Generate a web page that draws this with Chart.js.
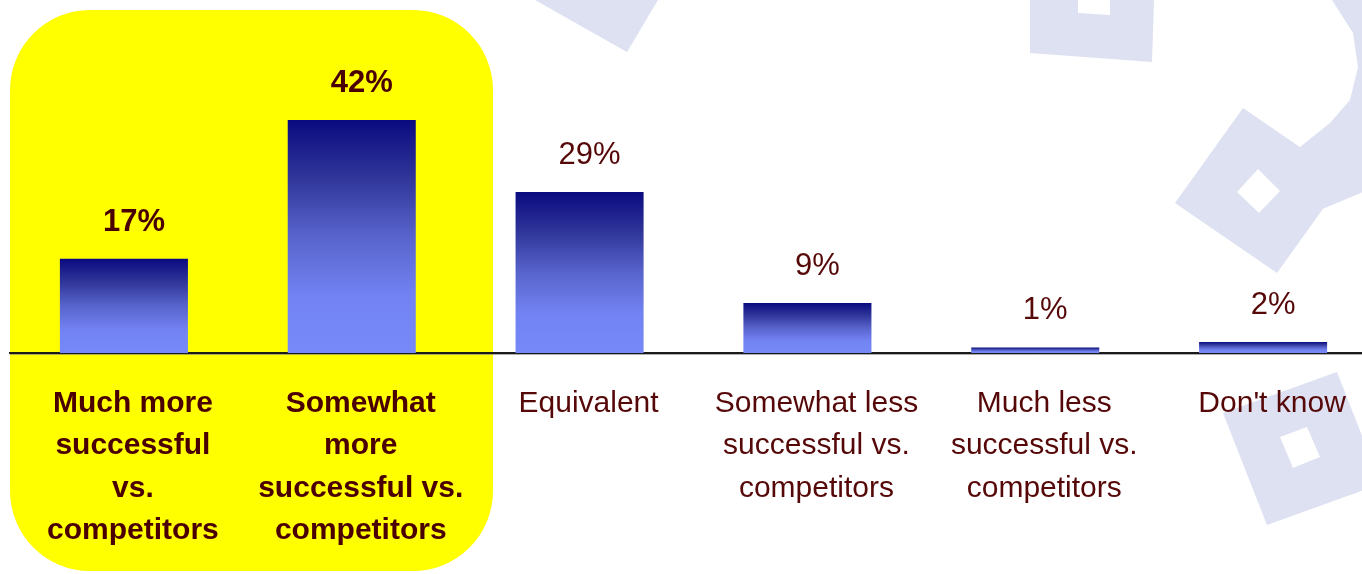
<!DOCTYPE html>
<html>
<head>
<meta charset="utf-8">
<script src="https://cdn.jsdelivr.net/npm/chart.js@4/dist/chart.umd.min.js"></script>
<style>
  html, body { margin: 0; padding: 0; background: #ffffff; overflow: hidden; width: 1362px; height: 574px; }
  #wrap { width: 1380px; height: 574px; }
</style>
</head>
<body>
<div id="wrap"><canvas id="c" width="1380" height="574"></canvas></div>
<script>
// Survey answers: how successful vs. competitors
const categories = [
  ['Much more', 'successful', 'vs.', 'competitors'],
  ['Somewhat', 'more', 'successful vs.', 'competitors'],
  ['Equivalent'],
  ['Somewhat less', 'successful vs.', 'competitors'],
  ['Much less', 'successful vs.', 'competitors'],
  ["Don't know"]
];
const shares = [17, 42, 29, 9, 1, 2];
const highlighted = [true, true, false, false, false, false];
const valueLabels = shares.map(v => v + '%');

const FONT = '"Liberation Sans", Arial, Helvetica, sans-serif';
const TEXT_BOLD = '#4a0000';
const TEXT_REG = '#560808';
const TINT = '#dde1f2';

function tracePoly(ctx, pts) {
  ctx.moveTo(pts[0][0], pts[0][1]);
  for (let i = 1; i < pts.length; i++) ctx.lineTo(pts[i][0], pts[i][1]);
  ctx.closePath();
}

// Faint logo tiles and the yellow highlight panel behind the first two answers
const backdrop = {
  id: 'backdrop',
  beforeDraw(chart) {
    const ctx = chart.ctx;
    ctx.save();
    ctx.fillStyle = '#ffffff';
    ctx.fillRect(0, 0, chart.width, chart.height);

    ctx.fillStyle = TINT;
    ctx.beginPath();
    tracePoly(ctx, [[535, 0], [658, 0], [627, 52]]);
    ctx.fill();

    ctx.beginPath();
    tracePoly(ctx, [[1030, 0], [1154, 0], [1152, 62], [1030, 53]]);
    tracePoly(ctx, [[1078, 0], [1110, 0], [1110, 15], [1078, 13]]);
    ctx.fill('evenodd');

    ctx.beginPath();
    tracePoly(ctx, [[1300, 147], [1330, 123], [1350, 100], [1358, 67], [1353, 33], [1332, 0],
                    [1380, 0], [1380, 185], [1320, 210], [1300, 180]]);
    ctx.fill();

    ctx.beginPath();
    tracePoly(ctx, [[1243, 108], [1345, 178], [1277, 273], [1175, 203]]);
    tracePoly(ctx, [[1258, 169], [1280, 191], [1259, 213], [1237, 192]]);
    ctx.fill('evenodd');

    ctx.beginPath();
    tracePoly(ctx, [[1223, 413], [1337, 372], [1381, 484], [1267, 525]]);
    tracePoly(ctx, [[1280, 437], [1307, 427], [1320, 457], [1293, 468]]);
    ctx.fill('evenodd');

    ctx.fillStyle = '#ffff00';
    ctx.beginPath();
    ctx.roundRect(10, 10, 483, 561, 80);
    ctx.fill();
    ctx.restore();
  }
};

// Percent labels above the bars
const valueText = {
  id: 'valueText',
  afterDatasetsDraw(chart) {
    const ctx = chart.ctx;
    const meta = chart.getDatasetMeta(0);
    ctx.save();
    ctx.textAlign = 'center';
    ctx.textBaseline = 'alphabetic';
    meta.data.forEach((bar, i) => {
      ctx.font = (highlighted[i] ? 'bold ' : '') + '31px ' + FONT;
      ctx.fillStyle = highlighted[i] ? TEXT_BOLD : TEXT_REG;
      ctx.fillText(valueLabels[i], bar.x + 10, bar.y - 28);
    });
    // soft shadow under the base line
    const a = chart.chartArea;
    ctx.strokeStyle = 'rgba(120,120,120,0.6)';
    ctx.lineWidth = 1;
    ctx.beginPath();
    ctx.moveTo(a.left, a.bottom + 1.5);
    ctx.lineTo(chart.width, a.bottom + 1.5);
    ctx.stroke();
    ctx.restore();
  }
};

function barFill(c) {
  const chart = c.chart;
  if (!chart.chartArea || c.type !== 'data') return '#5864cc';
  const y = chart.scales.y;
  const top = y.getPixelForValue(c.raw);
  const base = y.getPixelForValue(0);
  const g = chart.ctx.createLinearGradient(0, top, 0, base);
  g.addColorStop(0, '#0a0a80');
  g.addColorStop(0.25, '#30369a');
  g.addColorStop(0.5, '#5864cc');
  g.addColorStop(0.75, '#7282f2');
  g.addColorStop(1, '#7789f8');
  return g;
}

new Chart(document.getElementById('c'), {
  type: 'bar',
  data: {
    labels: categories,
    datasets: [{
      data: shares,
      backgroundColor: barFill,
      borderWidth: 0,
      categoryPercentage: 1,
      barPercentage: 0.562
    }]
  },
  options: {
    responsive: false,
    animation: false,
    layout: { padding: { left: 10, right: 3, top: 20, bottom: 0 } },
    plugins: { legend: { display: false }, tooltip: { enabled: false } },
    scales: {
      x: {
        grid: { display: false, drawTicks: false },
        border: { display: true, color: '#1a1a1a', width: 2 },
        afterFit(scale) { scale.height = 221; },
        ticks: {
          padding: 29,
          labelOffset: 9,
          autoSkip: false,
          maxRotation: 0,
          color: (c) => highlighted[c.index] ? TEXT_BOLD : TEXT_REG,
          font: (c) => ({ family: FONT, size: 30, weight: highlighted[c.index] ? 'bold' : 'normal', lineHeight: 1.42 })
        }
      },
      y: {
        display: false,
        min: 0,
        max: 60
      }
    }
  },
  plugins: [backdrop, valueText]
});
</script>
</body>
</html>
